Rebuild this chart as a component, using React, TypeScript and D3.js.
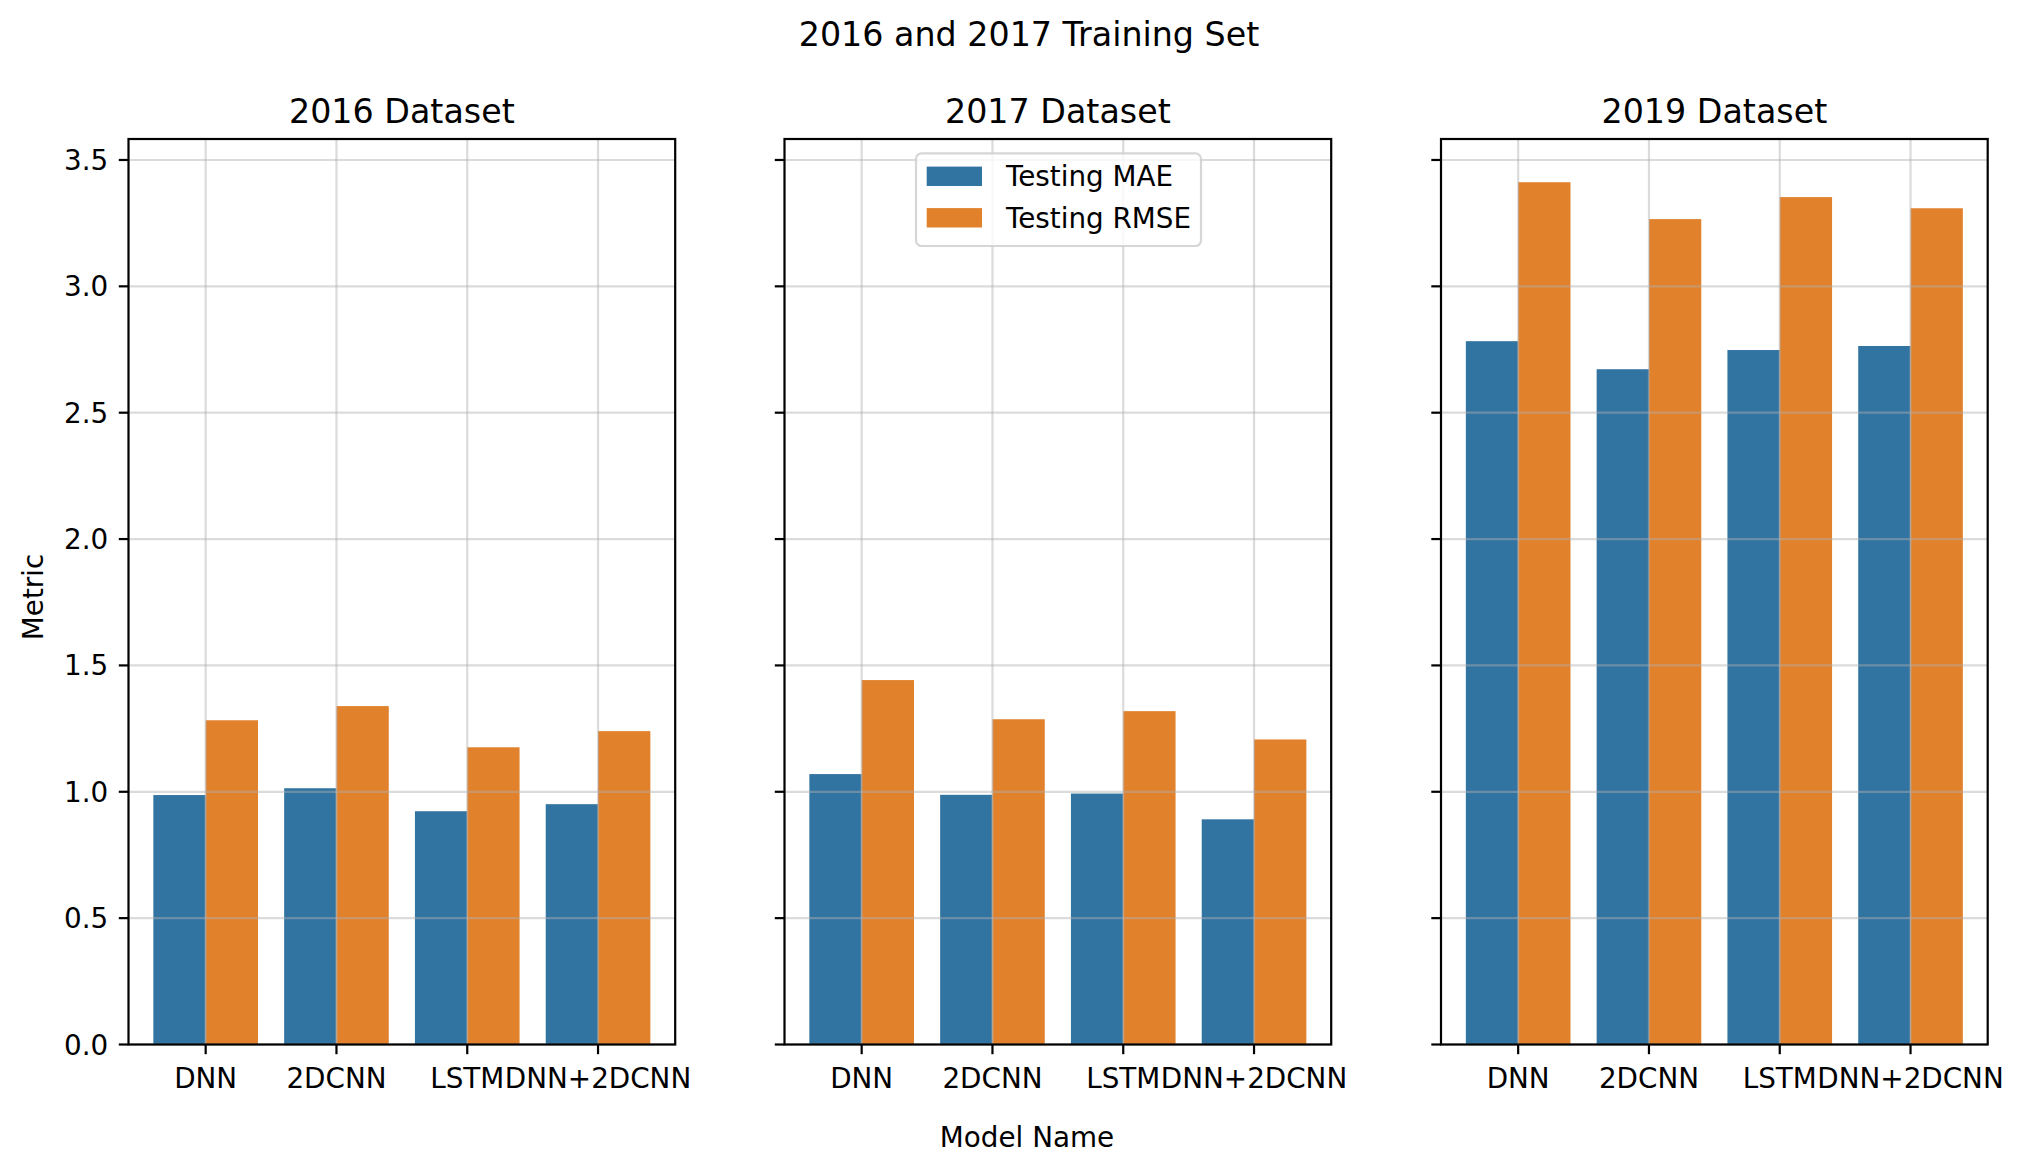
import React from 'react';
import * as d3 from 'd3';

const categories = ['DNN', '2DCNN', 'LSTM', 'DNN+2DCNN'];
const seriesNames = ['Testing MAE', 'Testing RMSE'];
const panelTitles = ['2016 Dataset', '2017 Dataset', '2019 Dataset'];

const mae2016 = [0.987, 1.014, 0.923, 0.951];
const rmse2016 = [1.283, 1.339, 1.176, 1.24];
const mae2017 = [1.07, 0.988, 0.993, 0.891];
const rmse2017 = [1.442, 1.287, 1.319, 1.207];
const mae2019 = [2.783, 2.672, 2.748, 2.764];
const rmse2019 = [3.412, 3.266, 3.353, 3.309];

const yTicks = [0, 0.5, 1.0, 1.5, 2.0, 2.5, 3.0, 3.5];

const panelData = [
  [mae2016, rmse2016],
  [mae2017, rmse2017],
  [mae2019, rmse2019],
];

const colors = ['#3274a1', '#e1812c'];

const W = 2023;
const H = 1173;
const FONT = 'DejaVu Sans, sans-serif';
const tickFont = 27.8;
const titleFont = 33.3;

const panelLefts = [128.5, 784.5, 1441];
const panelW = 546.7;
const top = 139;
const bottom = 1044.5;
const tickLen = 9.7;

const Panel: React.FC<{ idx: number }> = ({ idx }) => {
  const left = panelLefts[idx];
  const right = left + panelW;
  const [mae, rmse] = panelData[idx];

  const y = d3.scaleLinear().domain([0, 3.583]).range([bottom, top]);
  const x = d3.scaleBand<string>()
    .domain(categories)
    .range([left, right])
    .paddingInner(0)
    .paddingOuter(0.09);
  const step = x.bandwidth();
  const inner = d3.scaleBand<string>()
    .domain(seriesNames)
    .range([0.1 * step, 0.9 * step])
    .padding(0);
  const center = (c: string) => (x(c) ?? 0) + step / 2;

  const values = [mae, rmse];

  return (
    <g>
      <rect x={left} y={top} width={panelW} height={bottom - top} fill="#fff" />
      {/* bars */}
      {seriesNames.map((s, si) =>
        categories.map((c, ci) => (
          <rect
            key={s + c}
            x={(x(c) ?? 0) + (inner(s) ?? 0)}
            y={y(values[si][ci])}
            width={inner.bandwidth()}
            height={y(0) - y(values[si][ci])}
            fill={colors[si]}
          />
        ))
      )}
      {/* grid on top of bars */}
      <g stroke="#b0b0b0" strokeOpacity={0.45} strokeWidth={2.2}>
        {yTicks.map(t => (
          <line key={'gy' + t} x1={left} x2={right} y1={y(t)} y2={y(t)} />
        ))}
        {categories.map(c => (
          <line key={'gx' + c} x1={center(c)} x2={center(c)} y1={top} y2={bottom} />
        ))}
      </g>
      {/* y ticks */}
      {yTicks.map(t => (
        <g key={'ty' + t}>
          <line x1={left - tickLen} x2={left} y1={y(t)} y2={y(t)} stroke="#000" strokeWidth={2.2} />
          {idx === 0 && (
            <text
              x={left - tickLen - 10.5}
              y={y(t)}
              dy="0.36em"
              textAnchor="end"
              fontSize={tickFont}
              fontFamily={FONT}
            >
              {d3.format('.1f')(t)}
            </text>
          )}
        </g>
      ))}
      {/* x ticks */}
      {categories.map(c => (
        <g key={'tx' + c}>
          <line x1={center(c)} x2={center(c)} y1={bottom} y2={bottom + tickLen} stroke="#000" strokeWidth={2.2} />
          <text x={center(c)} y={1087.7} textAnchor="middle" fontSize={tickFont} fontFamily={FONT}>
            {c}
          </text>
        </g>
      ))}
      <rect x={left} y={top} width={panelW} height={bottom - top} fill="none" stroke="#000" strokeWidth={2.2} />
      <text x={(left + right) / 2} y={122.5} textAnchor="middle" fontSize={titleFont} fontFamily={FONT}>
        {panelTitles[idx]}
      </text>
    </g>
  );
};

const Legend: React.FC = () => {
  const bx = 916;
  const by = 153.3;
  const rows = d3.scaleLinear().domain([0, 1]).range([176.3, 217.8]);
  return (
    <g>
      <rect
        x={bx}
        y={by}
        width={285}
        height={92.7}
        rx={5.5}
        fill="#fff"
        fillOpacity={0.8}
        stroke="#cccccc"
        strokeOpacity={0.8}
        strokeWidth={2.2}
      />
      {seriesNames.map((s, i) => (
        <g key={s}>
          <rect x={926.7} y={rows(i) - 9.7} width={55.3} height={19.4} fill={colors[i]} />
          <text x={1006} y={rows(i)} dy="0.36em" fontSize={tickFont} fontFamily={FONT}>
            {s}
          </text>
        </g>
      ))}
    </g>
  );
};

export default function App() {
  return (
    <svg
      width={W}
      height={H}
      style={{ position: 'absolute', left: 0, top: 0, background: '#fff' }}
    >
      <rect width={W} height={H} fill="#fff" />
      <text x={1029} y={45.7} textAnchor="middle" fontSize={titleFont} fontFamily={FONT}>
        2016 and 2017 Training Set
      </text>
      {panelTitles.map((_, i) => (
        <Panel key={i} idx={i} />
      ))}
      <Legend />
      <text x={1027} y={1147.3} textAnchor="middle" fontSize={tickFont} fontFamily={FONT}>
        Model Name
      </text>
      <text
        transform="translate(43,597) rotate(-90)"
        textAnchor="middle"
        fontSize={tickFont}
        fontFamily={FONT}
      >
        Metric
      </text>
    </svg>
  );
}
